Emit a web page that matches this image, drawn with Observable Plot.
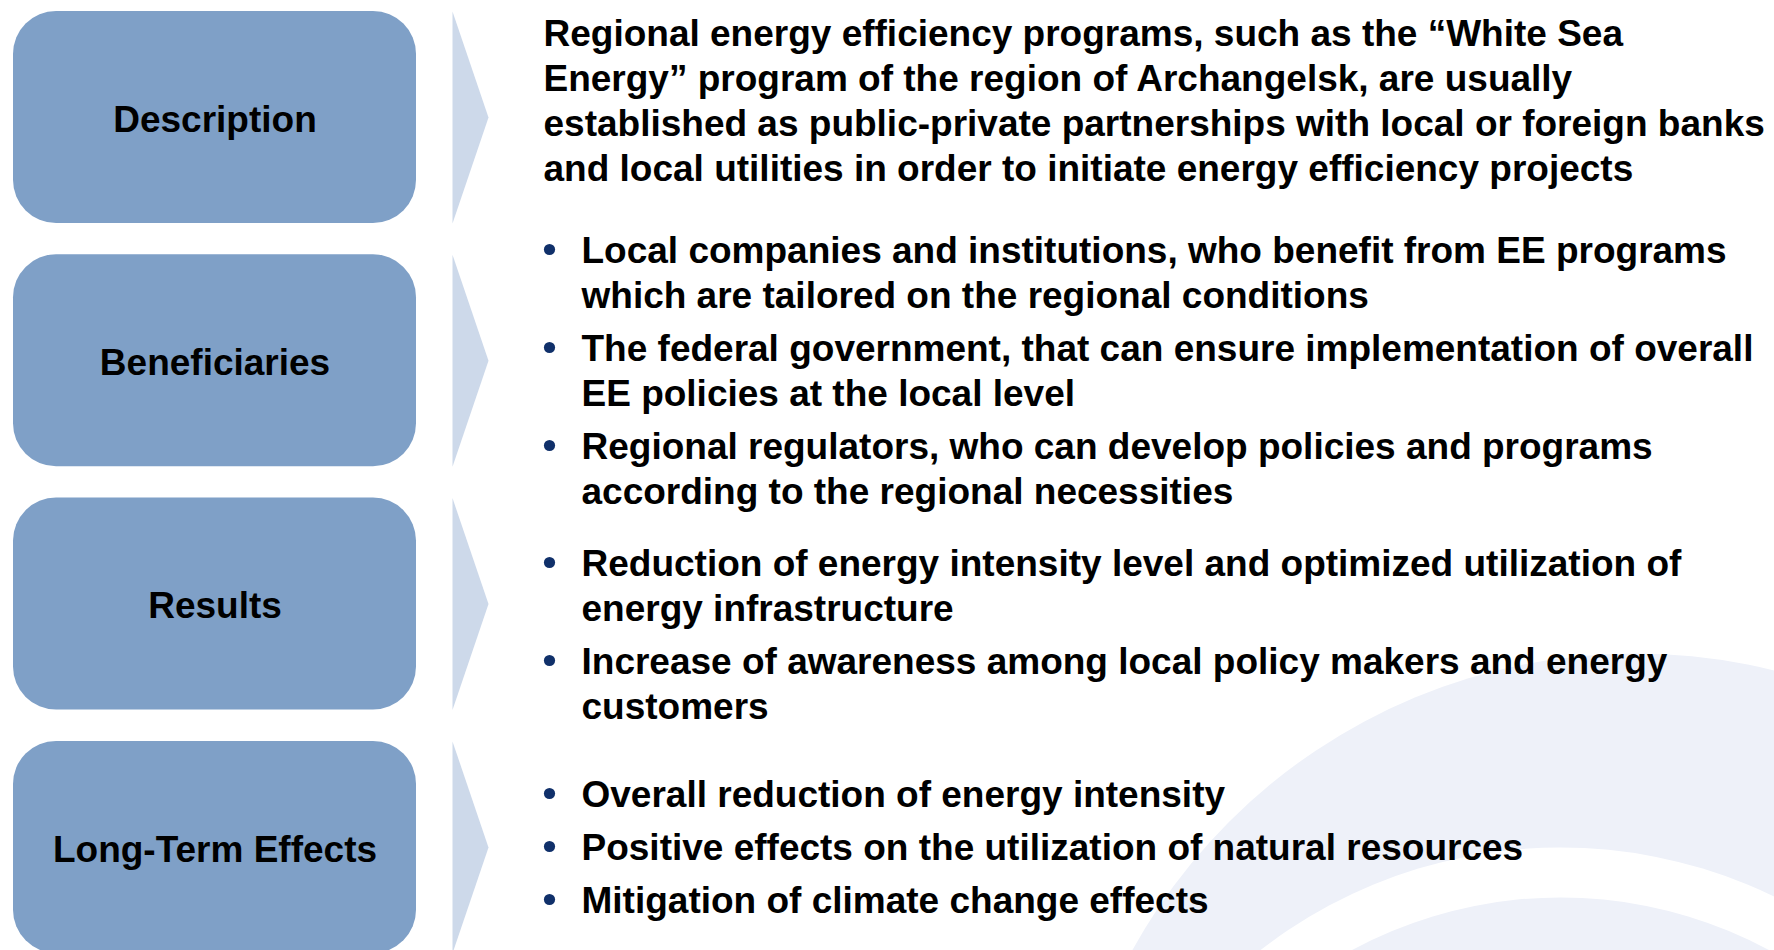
<!DOCTYPE html>
<html>
<head>
<meta charset="utf-8">
<script src="https://cdn.jsdelivr.net/npm/d3@7"></script>
<script src="https://cdn.jsdelivr.net/npm/@observablehq/plot@0.6"></script>
<style>
  html, body { margin: 0; padding: 0; background: #ffffff; overflow: hidden; }
  #chart { width: 1774px; height: 950px; }
</style>
</head>
<body>
<div id="chart"></div>
<script>
// ---------------- content ----------------
const sectionLabels = ["Description", "Beneficiaries", "Results", "Long-Term Effects"];

const descriptionLines = [
  "Regional energy efficiency programs, such as the \u201cWhite Sea",
  "Energy\u201d program of the region of Archangelsk, are usually",
  "established as public-private partnerships with local or foreign banks",
  "and local utilities in order to initiate energy efficiency projects"
];

const beneficiaryBullets = [
  ["Local companies and institutions, who benefit from EE programs", "which are tailored on the regional conditions"],
  ["The federal government, that can ensure implementation of overall", "EE policies at the local level"],
  ["Regional regulators, who can develop policies and programs", "according to the regional necessities"]
];

const resultBullets = [
  ["Reduction of energy intensity level and optimized utilization of", "energy infrastructure"],
  ["Increase of awareness among local policy makers and energy", "customers"]
];

const longTermBullets = [
  ["Overall reduction of energy intensity"],
  ["Positive effects on the utilization of natural resources"],
  ["Mitigation of climate change effects"]
];

// ---------------- layout ----------------
const W = 1774, H = 950;
const boxX1 = 13, boxX2 = 416, boxTop0 = 11, boxStep = 243.3, boxH = 212, boxR = 43;
const arrowX1 = 452, arrowX2 = 488;
const textX = 543, bulletX = 549, bulletTextX = 581;
const sectionTextStart = [45, 262, 575, 806];
const lineStep = 45, paraGap = 8;
const fontSize = 37;
const FONT = "'Liberation Sans', Arial, Helvetica, sans-serif";

const boxColor = "#7FA0C7";
const arrowColor = "#CDD9EA";
const watermark = "#EEF1F9";
const bulletColor = "#10306A";

const boxes = sectionLabels.map((label, i) => {
  const y1 = boxTop0 + i * boxStep;
  return {label, x1: boxX1, x2: boxX2, y1, y2: y1 + boxH, cx: (boxX1 + boxX2) / 2, cy: y1 + boxH / 2};
});

const arrowPts = boxes.flatMap((b, i) => [
  {id: i, x: arrowX1, y: b.y1},
  {id: i, x: arrowX2, y: b.cy},
  {id: i, x: arrowX1, y: b.y2}
]);

// text rows
const textRows = [];
const bulletRows = [];
descriptionLines.forEach((t, i) => textRows.push({x: textX, y: sectionTextStart[0] + i * lineStep, text: t}));
[beneficiaryBullets, resultBullets, longTermBullets].forEach((group, gi) => {
  let y = sectionTextStart[gi + 1];
  group.forEach((lines) => {
    bulletRows.push({x: bulletX, y: y - 13});
    lines.forEach((t) => {
      textRows.push({x: bulletTextX, y, text: t});
      y += lineStep;
    });
    y += paraGap;
  });
});

// background watermark circles (decorative logo arcs)
const wmOuter = [{x: 1635, y: 1228}];
const wmRing = [{x: 1560, y: 1337}];

const chart = Plot.plot({
  width: W,
  height: H,
  margin: 0,
  x: {domain: [0, W], range: [0, W], axis: null},
  y: {domain: [0, H], range: [0, H], axis: null},
  style: {background: "#ffffff", overflow: "hidden", fontFamily: FONT},
  marks: [
    Plot.dot(wmOuter, {x: "x", y: "y", r: 575, fill: watermark, stroke: null}),
    Plot.dot(wmRing, {x: "x", y: "y", r: 490, fill: "#ffffff", stroke: null}),
    Plot.dot(wmRing, {x: "x", y: "y", r: 440, fill: watermark, stroke: null}),
    Plot.rect(boxes, {x1: "x1", x2: "x2", y1: "y1", y2: "y2", rx: boxR, ry: boxR, fill: boxColor}),
    Plot.line(arrowPts, {x: "x", y: "y", z: "id", fill: arrowColor, stroke: null, curve: "linear"}),
    Plot.text(boxes, {x: "cx", y: "cy", dy: 2.5, text: "label", fontSize, fontWeight: "bold", fontFamily: FONT, fill: "#000000", lineAnchor: "middle", textAnchor: "middle"}),
    Plot.dot(bulletRows, {x: "x", y: "y", r: 5.6, fill: bulletColor, stroke: null}),
    Plot.text(textRows, {x: "x", y: "y", text: "text", fontSize, fontWeight: "bold", fontFamily: FONT, fill: "#000000", textAnchor: "start", lineAnchor: "bottom"})
  ]
});
document.getElementById("chart").appendChild(chart);
</script>
</body>
</html>
